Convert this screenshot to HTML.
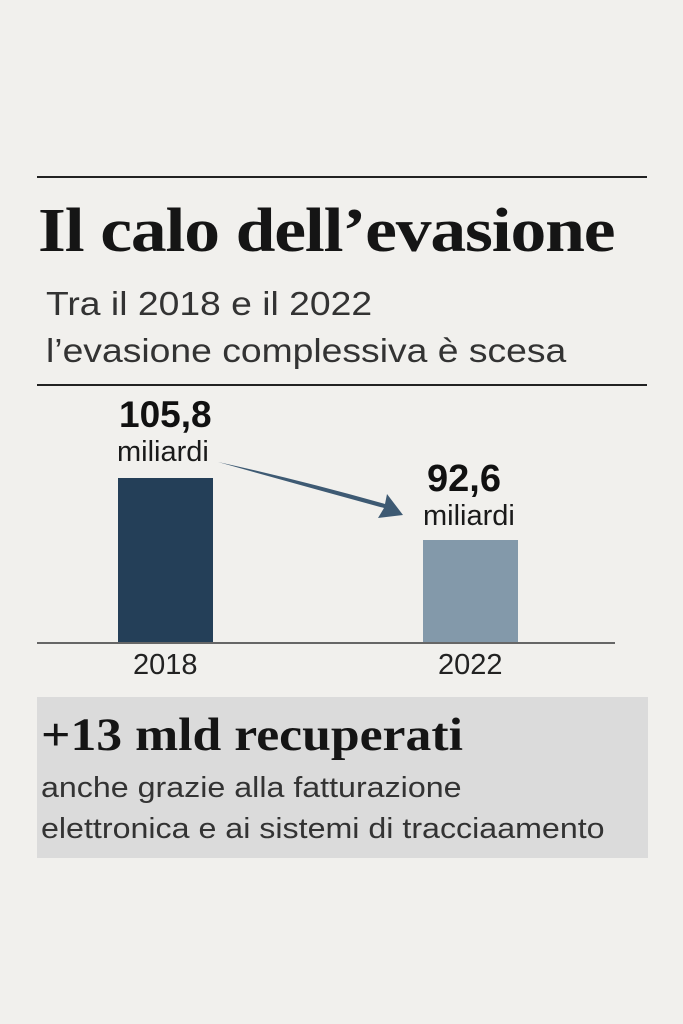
<!DOCTYPE html>
<html><head><style>
body{margin:0;width:683px;height:1024px;background:#f1f0ed;position:relative;overflow:hidden;font-family:"Liberation Sans",sans-serif;color:#1a1a1a}
.a{position:absolute;white-space:nowrap;transform-origin:0 0}
</style></head><body>
<div class="a" style="left:37px;top:176px;width:610px;height:2px;background:#222"></div>
<div class="a" style="left:38px;top:196px;font-family:'Liberation Serif',serif;font-weight:bold;font-size:62px;letter-spacing:-1px;color:#151515;transform:scaleX(1.155)">Il calo dell’evasione</div>
<div class="a" style="left:46px;top:280px;font-size:33px;line-height:47px;color:#333;transform:scaleX(1.13)">Tra il 2018 e il 2022<br>l’evasione complessiva è scesa</div>
<div class="a" style="left:37px;top:384px;width:610px;height:2px;background:#222"></div>
<div class="a" style="left:119px;top:394px;font-size:37px;font-weight:bold;color:#111">105,8</div>
<div class="a" style="left:117px;top:436px;font-size:29px;color:#1a1a1a">miliardi</div>
<div class="a" style="left:427px;top:458px;font-size:38px;font-weight:bold;color:#111">92,6</div>
<div class="a" style="left:423px;top:500px;font-size:29px;color:#1a1a1a">miliardi</div>
<div class="a" style="left:118px;top:478px;width:95px;height:165px;background:#243f58"></div>
<div class="a" style="left:423px;top:540px;width:95px;height:103px;background:#8399aa"></div>
<div class="a" style="left:37px;top:642px;width:578px;height:2px;background:#666"></div>
<svg class="a" style="left:0;top:0" width="683" height="1024"><path d="M218 462 Q300 485 384 508 L378 518 L403 515 L387 494 L385 504 Q300 480 218 462Z" fill="#3e5a73"/></svg>
<div class="a" style="left:133px;top:649px;font-size:29px;color:#222">2018</div>
<div class="a" style="left:438px;top:649px;font-size:29px;color:#222">2022</div>
<div class="a" style="left:37px;top:697px;width:611px;height:161px;background:#dbdbdb"></div>
<div class="a" style="left:41px;top:708px;font-family:'Liberation Serif',serif;font-weight:bold;font-size:47px;color:#151515;transform:scaleX(1.1)">+13 mld recuperati</div>
<div class="a" style="left:41px;top:768px;font-size:29px;line-height:41px;color:#333;transform:scaleX(1.11)">anche grazie alla fatturazione<br>elettronica e ai sistemi di tracciaamento</div>
</body></html>
